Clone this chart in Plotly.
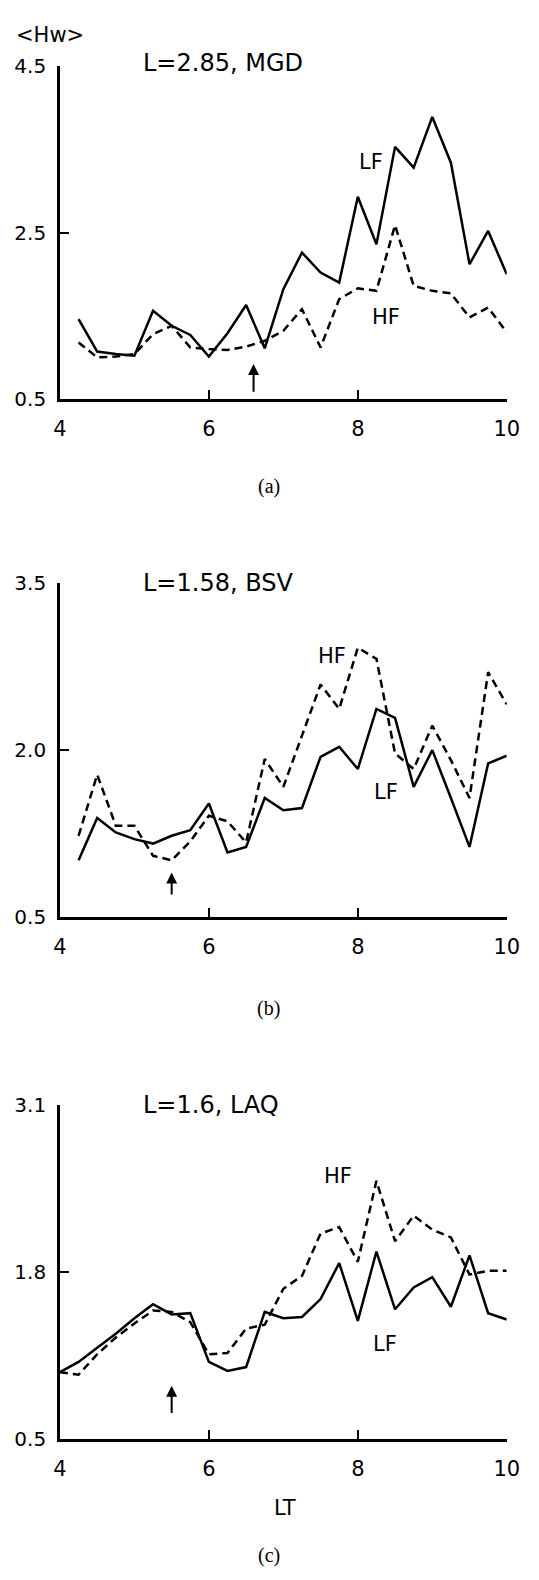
import plotly.graph_objects as go

# ---------------- data ----------------
lt_ab = [4.25, 4.5, 4.75, 5.0, 5.25, 5.5, 5.75, 6.0, 6.25, 6.5, 6.75, 7.0,
         7.25, 7.5, 7.75, 8.0, 8.25, 8.5, 8.75, 9.0, 9.25, 9.5, 9.75, 10.0]
lt_c = [4.0, 4.25, 4.5, 4.75, 5.0, 5.25, 5.5, 5.75, 6.0, 6.25, 6.5, 6.75, 7.0,
        7.25, 7.5, 7.75, 8.0, 8.25, 8.5, 8.75, 9.0, 9.25, 9.5, 9.75, 10.0]

mgd_lf = [1.46, 1.07, 1.04, 1.02, 1.56, 1.38, 1.27, 1.01, 1.29, 1.63, 1.11, 1.82,
          2.26, 2.02, 1.90, 2.93, 2.36, 3.53, 3.28, 3.89, 3.34, 2.12, 2.52, 2.00]
mgd_hf = [1.18, 1.00, 1.01, 1.04, 1.28, 1.38, 1.12, 1.10, 1.09, 1.13, 1.20, 1.32,
          1.58, 1.12, 1.70, 1.83, 1.80, 2.59, 1.86, 1.80, 1.77, 1.48, 1.60, 1.30]

bsv_lf = [1.01, 1.39, 1.26, 1.20, 1.16, 1.23, 1.28, 1.52, 1.08, 1.13, 1.57, 1.46,
          1.48, 1.94, 2.03, 1.83, 2.37, 2.29, 1.67, 2.00, 1.57, 1.13, 1.88, 1.95]
bsv_hf = [1.23, 1.78, 1.32, 1.32, 1.05, 1.01, 1.18, 1.41, 1.36, 1.17, 1.92, 1.67,
          2.13, 2.59, 2.37, 2.92, 2.82, 1.97, 1.83, 2.22, 1.91, 1.57, 2.70, 2.41]

laq_lf = [1.02, 1.10, 1.21, 1.32, 1.44, 1.55, 1.47, 1.48, 1.10, 1.03, 1.06, 1.49, 1.44,
          1.45, 1.59, 1.87, 1.42, 1.96, 1.51, 1.68, 1.76, 1.53, 1.93, 1.48, 1.43]
laq_hf = [1.02, 1.00, 1.16, 1.29, 1.40, 1.50, 1.49, 1.41, 1.16, 1.17, 1.36, 1.39, 1.67,
          1.77, 2.10, 2.15, 1.88, 2.51, 2.04, 2.24, 2.13, 2.07, 1.78, 1.81, 1.81]

panel_titles = ["L=2.85, MGD", "L=1.58, BSV", "L=1.6, LAQ"]
panel_tags = ["(a)", "(b)", "(c)"]
y_ticks = [[0.5, 2.5, 4.5], [0.5, 2.0, 3.5], [0.5, 1.8, 3.1]]
y_ticktext = [["0.5", "2.5", "4.5"], ["0.5", "2.0", "3.5"], ["0.5", "1.8", "3.1"]]
x_ticks = [4, 6, 8, 10]
arrow_lt = [6.6, 5.5, 5.5]
arrow_tip = [0.92, 0.90, 0.915]
arrow_tail = [0.57, 0.69, 0.69]
lf_label_pos = [(8.18, 3.35), (8.38, 1.62), (8.37, 1.24)]
hf_label_pos = [(8.38, 1.49), (7.66, 2.85), (7.74, 2.55)]

# ---------------- layout geometry ----------------
W, H = 539, 1580
xdom = [55 / W, 519 / W]
ydoms = [[1 - 393 / H, 1 - 55 / H],
         [1 - 919 / H, 1 - 580 / H],
         [1 - 1449 / H, 1 - 1110 / H]]
title_y = [52, 580, 1110]
tag_y = [482, 1012, 1567]

FONT = "DejaVu Sans"
LW = 2.5

fig = go.Figure()
series = [(lt_ab, mgd_lf, mgd_hf), (lt_ab, bsv_lf, bsv_hf), (lt_c, laq_lf, laq_hf)]

for i, (xs, lf, hf) in enumerate(series):
    sfx = "" if i == 0 else str(i + 1)
    fig.add_trace(go.Scatter(x=xs, y=lf, mode="lines", xaxis="x" + sfx, yaxis="y" + sfx,
                             line=dict(color="black", width=LW), showlegend=False))
    fig.add_trace(go.Scatter(x=xs, y=hf, mode="lines", xaxis="x" + sfx, yaxis="y" + sfx,
                             line=dict(color="black", width=LW, dash="8px,5px"), showlegend=False))

    fig.layout["xaxis" + sfx] = dict(
        domain=xdom, anchor="y" + sfx, range=[4, 10], tickvals=x_ticks,
        ticks="inside", ticklen=9, tickwidth=2, tickcolor="black",
        showline=True, linewidth=2.6, linecolor="black", showgrid=False, zeroline=False,
        tickfont=dict(family=FONT, size=21, color="black"), ticklabelstandoff=9,
    )
    fig.layout["yaxis" + sfx] = dict(
        domain=ydoms[i], anchor="x" + sfx, range=[y_ticks[i][0], y_ticks[i][-1]],
        tickvals=y_ticks[i], ticktext=y_ticktext[i],
        ticks="inside", ticklen=9, tickwidth=2, tickcolor="black",
        showline=True, linewidth=2.6, linecolor="black", showgrid=False, zeroline=False,
        tickfont=dict(family=FONT, size=20, color="black"), ticklabelstandoff=7,
    )

    # panel title
    fig.add_annotation(x=139 / W, y=1 - title_y[i] / H, xref="paper", yref="paper",
                       text=panel_titles[i], showarrow=False, xanchor="left", yanchor="middle",
                       font=dict(family=FONT, size=24, color="black"))
    # panel tag
    fig.add_annotation(x=272 / W, y=1 - tag_y[i] / H, xref="paper", yref="paper",
                       text=panel_tags[i], showarrow=False, xanchor="center", yanchor="middle",
                       font=dict(family="Liberation Serif", size=20, color="black"))
    # series labels
    fig.add_annotation(x=lf_label_pos[i][0], y=lf_label_pos[i][1], xref="x" + sfx, yref="y" + sfx,
                       text="LF", showarrow=False, font=dict(family=FONT, size=21, color="black"))
    fig.add_annotation(x=hf_label_pos[i][0], y=hf_label_pos[i][1], xref="x" + sfx, yref="y" + sfx,
                       text="HF", showarrow=False, font=dict(family=FONT, size=21, color="black"))
    # arrow
    fig.add_annotation(x=arrow_lt[i], y=arrow_tip[i], ax=arrow_lt[i], ay=arrow_tail[i],
                       xref="x" + sfx, yref="y" + sfx, axref="x" + sfx, ayref="y" + sfx,
                       text="", showarrow=True, arrowhead=2, arrowsize=1.1, arrowwidth=2,
                       arrowcolor="black")

# y label and x label
fig.add_annotation(x=7 / W, y=1 - 23 / H, xref="paper", yref="paper", text="&lt;Hw&gt;",
                   showarrow=False, xanchor="left", yanchor="middle",
                   font=dict(family=FONT, size=21, color="black"))
fig.add_annotation(x=289 / W, y=1 - 1519 / H, xref="paper", yref="paper", text="LT",
                   showarrow=False, xanchor="center", yanchor="middle",
                   font=dict(family=FONT, size=21, color="black"))

fig.update_layout(width=W, height=H, margin=dict(l=0, r=0, t=0, b=0),
                  paper_bgcolor="white", plot_bgcolor="white")

fig.write_html("out.html")
